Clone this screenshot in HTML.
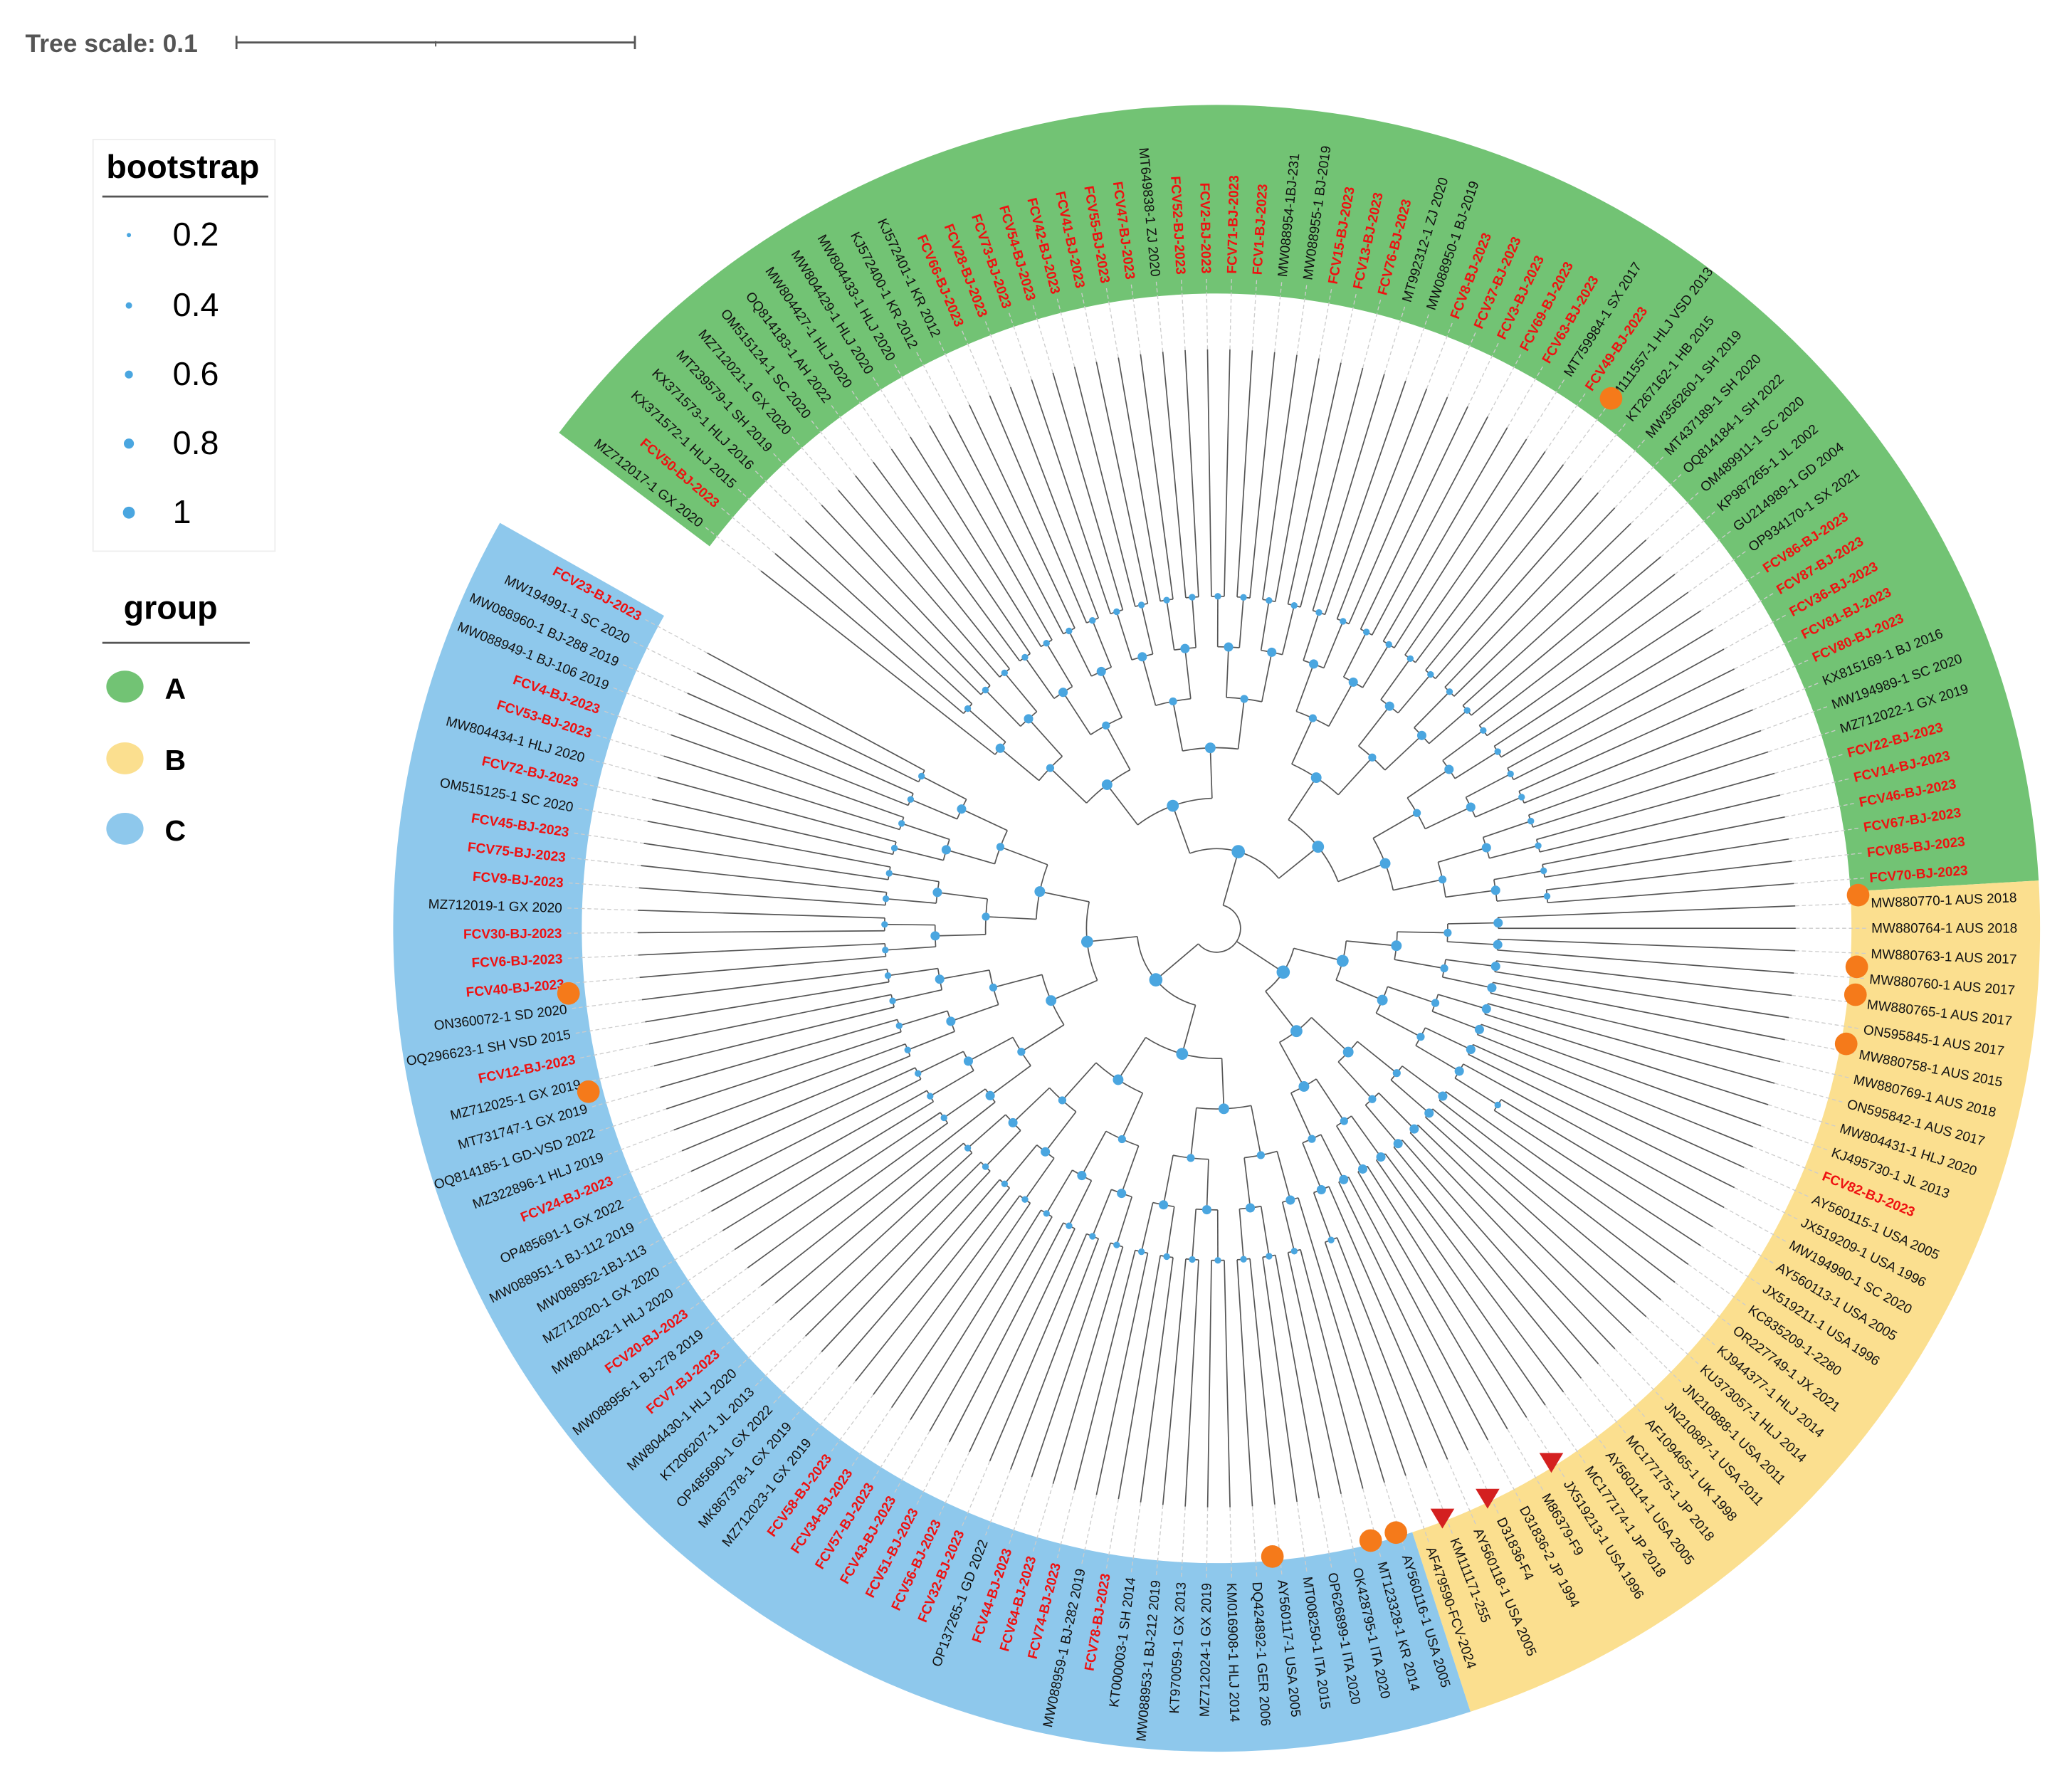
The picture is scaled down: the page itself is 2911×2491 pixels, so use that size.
<!DOCTYPE html>
<html><head><meta charset="utf-8"><style>
html,body{margin:0;padding:0;background:#fff;}
svg{display:block;font-family:"Liberation Sans",sans-serif;}
</style></head><body>
<svg id="chart" width="2911" height="2491" viewBox="0 0 1560 1335" xmlns="http://www.w3.org/2000/svg">
<g>
<text x="19" y="39" font-size="19" font-weight="bold" fill="#555">Tree scale: 0.1</text>
<line x1="178" y1="32" x2="478" y2="32" stroke="#555" stroke-width="1.5"/>
<line x1="178" y1="27" x2="178" y2="37" stroke="#555" stroke-width="1.5"/>
<line x1="478" y1="27" x2="478" y2="37" stroke="#555" stroke-width="1.5"/>
<line x1="328" y1="31" x2="328" y2="35" stroke="#555" stroke-width="1"/>
</g>
<g>
<rect x="70" y="105" width="137" height="310" fill="#fff" stroke="#eee"/>
<text x="80" y="134" font-size="25" font-weight="bold">bootstrap</text>
<line x1="77" y1="148" x2="202" y2="148" stroke="#555" stroke-width="1.5"/>
<circle cx="97" cy="177" r="1.6" fill="#4aa6e0"/><text x="130" y="185" font-size="25">0.2</text>
<circle cx="97" cy="230" r="2.4" fill="#4aa6e0"/><text x="130" y="238" font-size="25">0.4</text>
<circle cx="97" cy="282" r="3" fill="#4aa6e0"/><text x="130" y="290" font-size="25">0.6</text>
<circle cx="97" cy="334" r="3.8" fill="#4aa6e0"/><text x="130" y="342" font-size="25">0.8</text>
<circle cx="97" cy="386" r="4.5" fill="#4aa6e0"/><text x="130" y="394" font-size="25">1</text>
</g>
<g>
<text x="93" y="466" font-size="25" font-weight="bold">group</text>
<line x1="77" y1="484" x2="188" y2="484" stroke="#555" stroke-width="1.5"/>
<ellipse cx="94" cy="517" rx="14" ry="12" fill="#72c374"/><text x="124" y="526" font-size="22" font-weight="bold">A</text>
<ellipse cx="94" cy="571" rx="14" ry="12" fill="#fbdf8f"/><text x="124" y="580" font-size="22" font-weight="bold">B</text>
<ellipse cx="94" cy="624" rx="14" ry="12" fill="#8ec8ec"/><text x="124" y="633" font-size="22" font-weight="bold">C</text>
</g>
<g id="rings"></g><g id="tree"></g><g id="labels"></g><g id="marks"></g>
</svg>
<script>
const groupA = ["MZ712017-1 GX 2020","FCV50-BJ-2023","KX371572-1 HLJ 2015","KX371573-1 HLJ 2016","MT239579-1 SH 2019","MZ712021-1 GX 2020","OM515124-1 SC 2020","OQ814183-1 AH 2022","MW804427-1 HLJ 2020","MW804429-1 HLJ 2020","MW804433-1 HLJ 2020","KJ572400-1 KR 2012","KJ572401-1 KR 2012","FCV66-BJ-2023","FCV28-BJ-2023","FCV73-BJ-2023","FCV54-BJ-2023","FCV42-BJ-2023","FCV41-BJ-2023","FCV55-BJ-2023","FCV47-BJ-2023","MT649838-1 ZJ 2020","FCV52-BJ-2023","FCV2-BJ-2023","FCV71-BJ-2023","FCV1-BJ-2023","MW088954-1BJ-231","MW088955-1 BJ-2019","FCV15-BJ-2023","FCV13-BJ-2023","FCV76-BJ-2023","MT992312-1 ZJ 2020","MW088950-1 BJ-2019","FCV8-BJ-2023","FCV37-BJ-2023","FCV3-BJ-2023","FCV69-BJ-2023","FCV63-BJ-2023","MT759984-1 SX 2017","FCV49-BJ-2023","KM111557-1 HLJ VSD 2013","KT267162-1 HB 2015","MW356260-1 SH 2019","MT437189-1 SH 2020","OQ814184-1 SH 2022","OM489911-1 SC 2020","KP987265-1 JL 2002","GU214989-1 GD 2004","OP934170-1 SX 2021","FCV86-BJ-2023","FCV87-BJ-2023","FCV36-BJ-2023","FCV81-BJ-2023","FCV80-BJ-2023","KX815169-1 BJ 2016","MW194989-1 SC 2020","MZ712022-1 GX 2019","FCV22-BJ-2023","FCV14-BJ-2023","FCV46-BJ-2023","FCV67-BJ-2023","FCV85-BJ-2023","FCV70-BJ-2023"];
const groupB = ["MW880770-1 AUS 2018","MW880764-1 AUS 2018","MW880763-1 AUS 2017","MW880760-1 AUS 2017","MW880765-1 AUS 2017","ON595845-1 AUS 2017","MW880758-1 AUS 2015","MW880769-1 AUS 2018","ON595842-1 AUS 2017","MW804431-1 HLJ 2020","KJ495730-1 JL 2013","FCV82-BJ-2023","AY560115-1 USA 2005","JX519209-1 USA 1996","MW194990-1 SC 2020","AY560113-1 USA 2005","JX519211-1 USA 1996","KC835209-1-2280","OR227749-1 JX 2021","KJ944377-1 HLJ 2014","KU373057-1 HLJ 2014","JN210888-1 USA 2011","JN210887-1 USA 2011","AF109465-1 UK 1998","MC177175-1 JP 2018","AY560114-1 USA 2005","MC177174-1 JP 2018","JX519213-1 USA 1996","M86379-F9","D31836-2 JP 1994","D31836-F4","AY560118-1 USA 2005","KM111171-255","AF479590-FCV-2024"];
const groupC = ["AY560116-1 USA 2005","MT123328-1 KR 2014","OK428795-1 ITA 2020","OP626899-1 ITA 2020","MT008250-1 ITA 2015","AY560117-1 USA 2005","DQ424892-1 GER 2006","KM016908-1 HLJ 2014","MZ712024-1 GX 2019","KT970059-1 GX 2013","MW088953-1 BJ-212 2019","KT000003-1 SH 2014","FCV78-BJ-2023","MW088959-1 BJ-282 2019","FCV74-BJ-2023","FCV64-BJ-2023","FCV44-BJ-2023","OP137265-1 GD 2022","FCV32-BJ-2023","FCV56-BJ-2023","FCV51-BJ-2023","FCV43-BJ-2023","FCV57-BJ-2023","FCV34-BJ-2023","FCV58-BJ-2023","MZ712023-1 GX 2019","MK867378-1 GX 2019","OP485690-1 GX 2022","KT206207-1 JL 2013","MW804430-1 HLJ 2020","FCV7-BJ-2023","MW088956-1 BJ-278 2019","FCV20-BJ-2023","MW804432-1 HLJ 2020","MZ712020-1 GX 2020","MW088952-1BJ-113","MW088951-1 BJ-112 2019","OP485691-1 GX 2022","FCV24-BJ-2023","MZ322896-1 HLJ 2019","OQ814185-1 GD-VSD 2022","MT731747-1 GX 2019","MZ712025-1 GX 2019","FCV12-BJ-2023","OQ296623-1 SH VSD 2015","ON360072-1 SD 2020","FCV40-BJ-2023","FCV6-BJ-2023","FCV30-BJ-2023","MZ712019-1 GX 2020","FCV9-BJ-2023","FCV75-BJ-2023","FCV45-BJ-2023","OM515125-1 SC 2020","FCV72-BJ-2023","MW804434-1 HLJ 2020","FCV53-BJ-2023","FCV4-BJ-2023","MW088949-1 BJ-106 2019","MW088960-1 BJ-288 2019","MW194991-1 SC 2020","FCV23-BJ-2023"];
const groupNames = ["A","B","C"];
const groupColors = ["#72c374","#fbdf8f","#8ec8ec"];

const NS="http://www.w3.org/2000/svg";
const CX=916, CY=699, R_IN=478, R_OUT=620, R_LAB=493, R_TIP=436;
const START=-143, SPAN=352.5;
const all=[...groupA,...groupB,...groupC];
const N=all.length, STEP=SPAN/N;
const ang=i=>START+STEP*(i+0.5);
const rad=a=>a*Math.PI/180;
const pt=(r,a)=>[CX+r*Math.cos(rad(a)),CY+r*Math.sin(rad(a))];
function mk(tag,attrs,parent){const e=document.createElementNS(NS,tag);for(const k in attrs)e.setAttribute(k,attrs[k]);parent.appendChild(e);return e;}
function arcPath(r,a1,a2){const p1=pt(r,a1),p2=pt(r,a2);return `M${p1[0]},${p1[1]} A${r},${r} 0 ${a2-a1>180?1:0} 1 ${p2[0]},${p2[1]}`;}

const rings=document.getElementById('rings');
const groups=[groupA,groupB,groupC];
let off=0;
groups.forEach((g,gi)=>{
  const a1=START+STEP*off, a2=START+STEP*(off+g.length);
  const o1=pt(R_OUT,a1),o2=pt(R_OUT,a2),i1=pt(R_IN,a1),i2=pt(R_IN,a2);
  const lg=a2-a1>180?1:0;
  const p=mk('path',{d:`M${i1} L${o1} A${R_OUT},${R_OUT} 0 ${lg} 1 ${o2} L${i2} A${R_IN},${R_IN} 0 ${lg} 0 ${i1} Z`,fill:groupColors[gi]},rings);
  
  
  off+=g.length;
});

const labels=document.getElementById('labels');
const tree=document.getElementById('tree');
all.forEach((name,i)=>{
  const a=ang(i);
  const red=/^FCV\d+-BJ/.test(name);
  const right=(a>-90&&a<90)||a>270;
  const t=mk('text',{'font-size':'10.2',fill:red?'#ee1111':'#111','font-weight':red?'bold':'normal'},labels);
  if(right){t.setAttribute('transform',`translate(${CX},${CY}) rotate(${a})`);t.setAttribute('x',R_LAB);t.setAttribute('text-anchor','start');}
  else{t.setAttribute('transform',`translate(${CX},${CY}) rotate(${a+180})`);t.setAttribute('x',-R_LAB);t.setAttribute('text-anchor','end');}
  t.setAttribute('dy','3.5');
  t.textContent=name;
  
  
  const p1=pt(R_TIP,a),p2=pt(R_LAB-4,a);
  mk('line',{x1:p1[0],y1:p1[1],x2:p2[0],y2:p2[1],stroke:'#ccc','stroke-width':0.7,'stroke-dasharray':'3,2'},tree);
});

const dots=[];
function build(lo,hi,depth,base){
  const r=base+depth*38;
  if(hi-lo===1){return {a:ang(lo),leaf:true,r:R_TIP};}
  const mid=Math.floor((lo+hi)/2);
  const c1=build(lo,mid,depth+1,base), c2=build(mid,hi,depth+1,base);
  [c1,c2].forEach(c=>{
    const rr=Math.min(r, R_TIP-20);
    const p1=pt(rr,c.a),p2=pt(c.leaf?R_TIP:Math.min(c.nr,R_TIP-20),c.a);
    mk('line',{x1:p1[0],y1:p1[1],x2:p2[0],y2:p2[1],stroke:'#555','stroke-width':0.9},tree);
  });
  const rr=Math.min(r,R_TIP-20);
  mk('path',{d:arcPath(rr,c1.a,c2.a),fill:'none',stroke:'#555','stroke-width':0.9},tree);
  const a=(c1.a+c2.a)/2;
  dots.push([rr,a,depth]);
  return {a,leaf:false,nr:rr};
}
off=0;
const roots=[];
groups.forEach(g=>{const n=build(off,off+g.length,0,60);roots.push(n);off+=g.length;});
roots.forEach(n=>{const p1=pt(18,n.a),p2=pt(n.nr,n.a);mk('line',{x1:p1[0],y1:p1[1],x2:p2[0],y2:p2[1],stroke:'#555','stroke-width':0.9},tree);});
mk('path',{d:arcPath(18,roots[0].a,roots[2].a),fill:'none',stroke:'#555','stroke-width':0.9},tree);
const dg=mk('g',{},tree);


dots.forEach(([r,a,d])=>{const p=pt(r,a);mk('circle',{cx:p[0],cy:p[1],r:[5,4.5,4,3,3.5,2.5,2][d%7],fill:'#4aa6e0'},dg);});

const marks=document.getElementById('marks');
[[1213,300],[1399,674],[1398,728],[1397,749],[1390,786],[428,748],[443,822],[958,1172],[1032,1160],[1051,1154]].forEach(([x,y])=>{
  const c=mk('circle',{cx:x,cy:y,r:8.5,fill:'#f57a1a'},marks);
  
  
});
[[1086,1143],[1120,1128],[1168,1101]].forEach(([x,y])=>{
  const t=mk('polygon',{points:`${x-9},${y-7} ${x+9},${y-7} ${x},${y+8}`,fill:'#d42020'},marks);
  
  
});
</script>
</body></html>
